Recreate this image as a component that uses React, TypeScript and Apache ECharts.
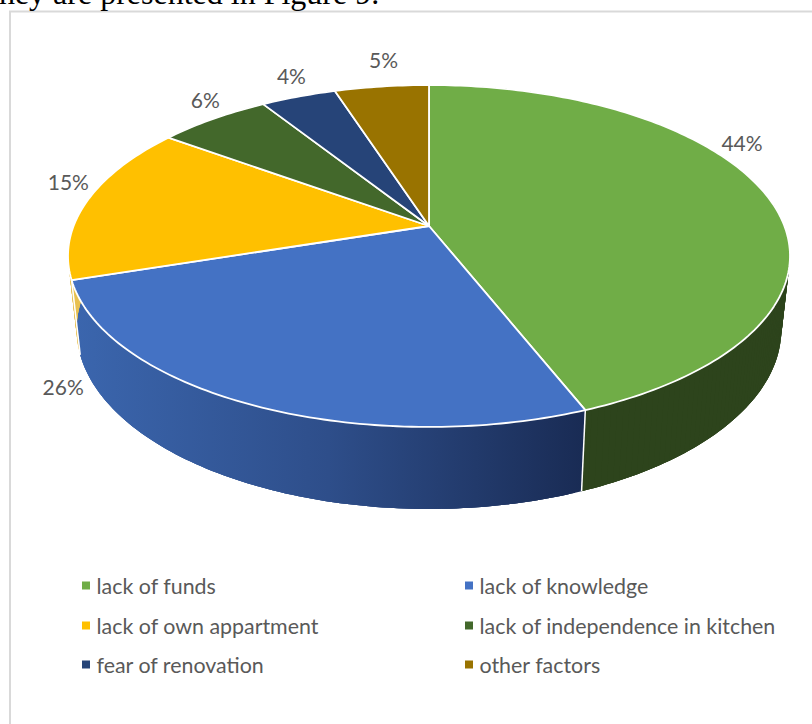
import React, { useEffect, useRef } from "react";
import * as echarts from "echarts";

const categories = [
  "lack of funds",
  "lack of knowledge",
  "lack of own appartment",
  "lack of independence in kitchen",
  "fear of renovation",
  "other factors",
];
const shares = [44, 26, 15, 6, 4, 5];
const topColors = ["#70AD47", "#4472C4", "#FFC000", "#43682B", "#264478", "#997300"];
const wallColors: any[] = [
  "#2D441C",
  new echarts.graphic.LinearGradient(
    72,
    0,
    585,
    0,
    [
      { offset: 0, color: "#3B66AE" },
      { offset: 0.5, color: "#2E4E8A" },
      { offset: 1, color: "#192B54" },
    ],
    true
  ),
  "#E8C050",
  "#2D441C",
  "#192B54",
  "#664D00",
];
const labelOffsets = [
  [-25, -53],
  [-186, -18],
  [-19, -19],
  [-8, -19],
  [-7, -21],
  [2, -27],
];
const legendSlots = [
  [82, 575],
  [465, 575],
  [82, 615],
  [465, 615],
  [82, 654],
  [465, 654],
];

const APEX_X = 429;
const APEX_Y = 226;
const SCALE_X = 355.4;
const SCALE_Y = 165.7;
const PERSPECTIVE = 0.1754;
const DEPTH_NEAR = 82;
const DEPTH_FADE = 0.05;
const BOTTOM_SHRINK = 0.976;
const LABEL_FONT = "Lato";

const total = shares.reduce((a, b) => a + b, 0);

function topPoint(theta: number): [number, number] {
  const u = Math.sin(theta);
  const v = Math.cos(theta);
  const d = 1 + PERSPECTIVE * v;
  return [APEX_X + (SCALE_X * u) / d, APEX_Y - (SCALE_Y * v) / d];
}
function bottomPoint(theta: number): [number, number] {
  const [x, y] = topPoint(theta);
  const nearY = APEX_Y + SCALE_Y / (1 - PERSPECTIVE);
  return [APEX_X + (x - APEX_X) * BOTTOM_SHRINK, y + DEPTH_NEAR - (nearY - y) * DEPTH_FADE];
}

function makeRender(index: number) {
  return () => {
    const before = shares.slice(0, index).reduce((a, b) => a + b, 0);
    const a0 = (before / total) * Math.PI * 2;
    const a1 = ((before + shares[index]) / total) * Math.PI * 2;
    const steps = Math.max(4, Math.ceil(((a1 - a0) * 180) / Math.PI));
    const top: number[][] = [];
    const bottom: number[][] = [];
    for (let i = 0; i <= steps; i++) {
      const t = a0 + ((a1 - a0) * i) / steps;
      top.push(topPoint(t));
      bottom.push(bottomPoint(t));
    }
    // overlapping strips, so that the silhouette is right and no seams show
    const quads: any[] = [];
    for (let i = 0; i < steps; i++) {
      const j = Math.min(i + 3, steps);
      quads.push({
        type: "polygon",
        z2: 1,
        shape: {
          points: [...top.slice(i, j + 1), ...bottom.slice(i, j + 1).reverse()],
        },
        style: { fill: wallColors[index] },
      });
    }
    const mid = topPoint((a0 + a1) / 2);
    const off = labelOffsets[index];
    return {
      type: "group",
      children: [
        ...quads,
        {
          type: "line",
          z2: 2,
          shape: { x1: top[0][0], y1: top[0][1], x2: bottom[0][0], y2: bottom[0][1] },
          style: { stroke: "#fff", lineWidth: 1.5 },
        },
        {
          type: "polygon",
          z2: 10,
          shape: { points: [[APEX_X, APEX_Y], ...top] },
          style: { fill: topColors[index], stroke: "#fff", lineWidth: 1.8, lineJoin: "round" },
        },
        {
          type: "text",
          z2: 20,
          style: {
            x: mid[0] + off[0],
            y: mid[1] + off[1],
            text: shares[index] + "%",
            fill: "#595959",
            font: `21px ${LABEL_FONT}`,
            align: "center",
            verticalAlign: "middle",
          },
        },
      ],
    };
  };
}

export default function App() {
  const ref = useRef<HTMLDivElement>(null);
  useEffect(() => {
    document.body.style.margin = "0";
    const chart = echarts.init(ref.current!, null, { renderer: "svg" });
    chart.setOption({
      animation: false,
      backgroundColor: "#fff",
      legend: categories.map((name, i) => ({
        data: [name],
        left: legendSlots[i][0],
        top: legendSlots[i][1],
        icon: "rect",
        itemWidth: 8,
        itemHeight: 8,
        itemGap: 8,
        padding: 0,
        selectedMode: false,
        textStyle: {
          color: "#595959",
          fontFamily: LABEL_FONT,
          fontSize: 21.4,
          padding: [0, 0, 0, 1.5],
        },
      })),
      graphic: [
        {
          type: "polyline",
          shape: { points: [[10, 730], [10, 11.5], [820, 11.5]] },
          style: { stroke: "#D9D9D9", lineWidth: 2, fill: "none" },
        },
        {
          type: "text",
          x: -10,
          y: -23,
          style: {
            text: "they are presented in Figure 9.",
            fill: "#000",
            font: '32px "Liberation Serif"',
          },
        },
      ],
      series: categories.map((name, i) => ({
        type: "custom",
        name,
        coordinateSystem: "none",
        silent: true,
        itemStyle: { color: topColors[i] },
        data: [shares[i]],
        renderItem: makeRender(i),
      })),
    });
    return () => chart.dispose();
  }, []);
  return <div ref={ref} style={{ width: 812, height: 724 }} />;
}
